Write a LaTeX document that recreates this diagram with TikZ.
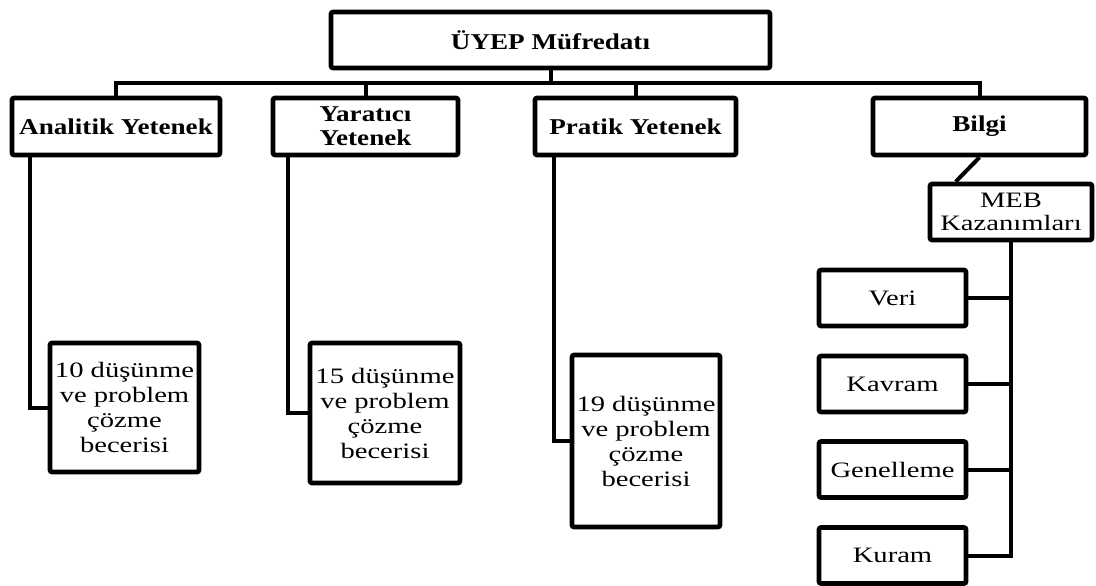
\documentclass[tikz,border=0pt]{standalone}
\usepackage{fontspec}
\setmainfont{Liberation Serif}
\newfontfamily\headfont[FakeStretch=1.2]{Liberation Serif}
\newfontfamily\leaffont[FakeStretch=1.3]{Liberation Serif}
\usetikzlibrary{positioning}

\begin{document}
\begin{tikzpicture}[x=0.5pt, y=-0.5pt]
			\tikzstyle{box}=[draw, line width=2.3pt, rounded corners=1pt, inner sep=1pt, align=center]
			\tikzstyle{head}=[box, minimum height=28.5pt, font=\headfont\bfseries\fontsize{11.3}{12}\selectfont]
			\tikzstyle{leaf}=[box, font=\leaffont\fontsize{11}{12.5}\selectfont]
			\tikzstyle{link}=[line width=2pt]
			\useasboundingbox (0,0) rectangle (1096,585);
			
			% Top level and the four branches
			\node[head, minimum width=219.5pt, minimum height=28pt] (top) at (550.5, 40) {ÜYEP Müfredatı};
			\node[head, minimum width=104pt] (analitik) at (116, 126.5) {Analitik Yetenek};
			\node[head, minimum width=92.5pt] (yaratici) at (365.5, 126.5) {Yaratıcı\\Yetenek};
			\node[head, minimum width=100.5pt] (pratik) at (635.5, 126.5) {Pratik Yetenek};
			\node[head, minimum width=106.5pt] (bilgi) at (979.5, 126.5) {Bilgi};
			
			% Skill boxes
			\node[leaf, minimum width=74.5pt, minimum height=64.5pt] (beceri10) at (124.5, 407.5) {10 düşünme\\ve problem\\çözme\\becerisi};
			\node[leaf, minimum width=75pt, minimum height=70pt] (beceri15) at (385, 413) {15 düşünme\\ve problem\\çözme\\becerisi};
			\node[leaf, minimum width=74pt, minimum height=86pt] (beceri19) at (646, 441) {19 düşünme\\ve problem\\çözme\\becerisi};
			
			% Knowledge side
			\node[leaf, minimum width=81pt, minimum height=28pt, font=\leaffont\fontsize{11}{11.5}\selectfont] (meb) at (1011, 212) {MEB\\Kazanımları};
			\node[leaf, minimum width=73.5pt, minimum height=28pt] (veri) at (892.5, 298) {Veri};
			\node[leaf, minimum width=73.5pt, minimum height=28pt] (kavram) at (892.5, 384) {Kavram};
			\node[leaf, minimum width=73.5pt, minimum height=28pt] (genelleme) at (892.5, 469.5) {Genelleme};
			\node[leaf, minimum width=73.5pt, minimum height=28pt] (kuram) at (892.5, 555.5) {Kuram};
			
			% Tree lines
			\coordinate (bus) at (0, 83);
			\draw[link] (top.south) -- (top.south |- bus);
			\draw[link] (analitik.north) -- (analitik.north |- bus) -- (bilgi.north |- bus) -- (bilgi.north);
			\foreach \n in {yaratici, pratik}
				\draw[link] (\n.north) -- (\n.north |- bus);
			
			\draw[link] ([xshift=10pt]analitik.south west) |- (beceri10.west);
			\draw[link] ([xshift=8.5pt]yaratici.south west) |- (beceri15.west);
			\draw[link] ([xshift=10.5pt]pratik.south west) |- (beceri19.west);
			
			\draw[link] (bilgi.south) -- ([xshift=14pt]meb.north west);
			\draw[link] (meb.south) |- (kuram.east);
			\foreach \n in {veri, kavram, genelleme}
				\draw[link] (\n.east) -- (\n.east -| meb.south);
		\end{tikzpicture}
\end{document}
